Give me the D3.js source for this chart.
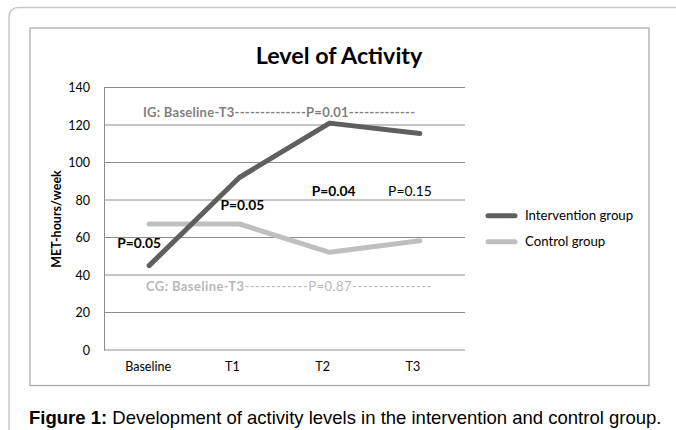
<!DOCTYPE html>
<html><head><meta charset="utf-8">
<script src="https://cdn.jsdelivr.net/npm/d3@7/dist/d3.min.js"></script>
<style>
html,body{margin:0;padding:0;background:#fff;}
svg{display:block;}
</style></head>
<body>
<svg id="chart" width="676" height="430"></svg>
<script>
const categories = ["Baseline", "T1", "T2", "T3"];
const interventionValues = [45, 92, 121, 115.5];
const controlValues = [67.2, 67.2, 52.1, 58.3];
const seriesNames = ["Intervention group", "Control group"];
const yTicks = [0, 20, 40, 60, 80, 100, 120, 140];

const svg = d3.select("#chart");
const FONT = "Lato, 'Open Sans', sans-serif";

// outer frame (rounded, continues past right and bottom edges)
svg.append("rect").attr("x", 9).attr("y", 7.5).attr("width", 700).attr("height", 460)
  .attr("rx", 9).attr("fill", "none").attr("stroke", "#c8c8c8").attr("stroke-width", 1.5);
// inner chart box
svg.append("rect").attr("x", 30).attr("y", 28).attr("width", 619).attr("height", 357.5)
  .attr("fill", "#fff").attr("stroke", "#a6a6a6").attr("stroke-width", 1.2);

const x = d3.scaleBand().domain(categories).range([104, 465]);
const y = d3.scaleLinear().domain([0, 140]).range([350, 87.5]);

// gridlines
svg.append("g").selectAll("line").data(yTicks.filter(d => d > 0)).join("line")
  .attr("x1", 104).attr("x2", 465).attr("y1", d => y(d)).attr("y2", d => y(d))
  .attr("stroke", "#8c8c8c").attr("stroke-width", 1);

// y axis
const yAxis = svg.append("g").attr("transform", "translate(104,0)")
  .call(d3.axisLeft(y).tickValues(yTicks).tickSize(0).tickPadding(14));
yAxis.select(".domain").attr("stroke", "#8c8c8c");
yAxis.selectAll("text").attr("font-family", FONT).attr("font-size", 12.5).attr("fill", "#000");

// x axis
const xAxis = svg.append("g").attr("transform", "translate(0,350)")
  .call(d3.axisBottom(x).tickSize(0).tickPadding(12));
xAxis.select(".domain").attr("stroke", "#8c8c8c").attr("d", "M104,0H465");
xAxis.selectAll("text").attr("font-family", FONT).attr("font-size", 12.5).attr("fill", "#000")
  .attr("dx", (d, i) => i === 0 ? -1 : -7);

// axis title
svg.append("text").attr("transform", "translate(61,219) rotate(-90)")
  .attr("text-anchor", "middle").attr("font-family", FONT).attr("font-weight", "bold")
  .attr("font-size", 12.5).attr("fill", "#000").text("MET-hours/week");

// title
svg.append("text").attr("x", 339).attr("y", 64).attr("text-anchor", "middle")
  .attr("font-family", FONT).attr("font-weight", "bold").attr("font-size", 23.3)
  .attr("fill", "#000").text("Level of Activity");

const line = d3.line().x((d, i) => x(categories[i]) + x.bandwidth() / 2).y(d => y(d));
const colors = ["#5f5f5f", "#bfbfbf"];
[controlValues, interventionValues].forEach((vals, k) => {
  svg.append("path").datum(vals).attr("d", line).attr("fill", "none")
    .attr("stroke", k === 0 ? colors[1] : colors[0]).attr("stroke-width", 5)
    .attr("stroke-linecap", "round").attr("stroke-linejoin", "round");
});

// annotations
svg.append("text").attr("x", 143).attr("y", y(126.5) + 4.5)
  .attr("font-family", FONT).attr("font-size", 13).attr("fill", "#7f7f7f").attr("font-weight", "bold")
  .attr("textLength", 272).attr("lengthAdjust", "spacing")
  .text("IG: Baseline-T3--------------P=0.01-------------");

const cg = svg.append("text").attr("x", 146).attr("y", y(34) + 4.5)
  .attr("font-family", FONT).attr("font-size", 13).attr("fill", "#b8b8b8");
cg.append("tspan").attr("font-weight", "bold").attr("textLength", 98).attr("lengthAdjust", "spacing").text("CG: Baseline-T3");
cg.append("tspan").attr("textLength", 187).attr("lengthAdjust", "spacing").text("------------P=0.87---------------");

const pLabels = [
  {t: "P=0.05", c: 0, v: 57, b: true},
  {t: "P=0.05", c: 1, v: 77.2, b: true},
  {t: "P=0.04", c: 2, v: 84.5, b: true},
  {t: "P=0.15", c: 3, v: 84.5, b: false}
];
const pdx = [-10, 3, 4, -10];
svg.append("g").selectAll("text").data(pLabels).join("text")
  .attr("x", (d) => x(categories[d.c]) + x.bandwidth() / 2 + pdx[d.c])
  .attr("y", d => y(d.v) + 4.5).attr("text-anchor", "middle")
  .attr("font-family", FONT).attr("font-size", 13.8)
  .attr("font-weight", d => d.b ? "bold" : "normal").attr("fill", "#000").text(d => d.t);

// legend
const leg = svg.append("g");
seriesNames.forEach((n, i) => {
  const ly = 215.7 + i * 26;
  leg.append("line").attr("x1", 488).attr("x2", 515).attr("y1", ly).attr("y2", ly)
    .attr("stroke", colors[i]).attr("stroke-width", 5).attr("stroke-linecap", "round");
  leg.append("text").attr("x", 525).attr("y", ly + 4.5).attr("font-family", FONT)
    .attr("font-size", 13.2).attr("fill", "#000").text(n);
});

// caption
const cap = svg.append("text").attr("x", 29).attr("y", 424)
  .attr("font-family", "'Liberation Sans', Arial, sans-serif").attr("font-size", 18.5).attr("fill", "#000");
cap.append("tspan").attr("font-weight", "bold").text("Figure 1:");
cap.append("tspan").text(" Development of activity levels in the intervention and control group.");
</script>
</body></html>
